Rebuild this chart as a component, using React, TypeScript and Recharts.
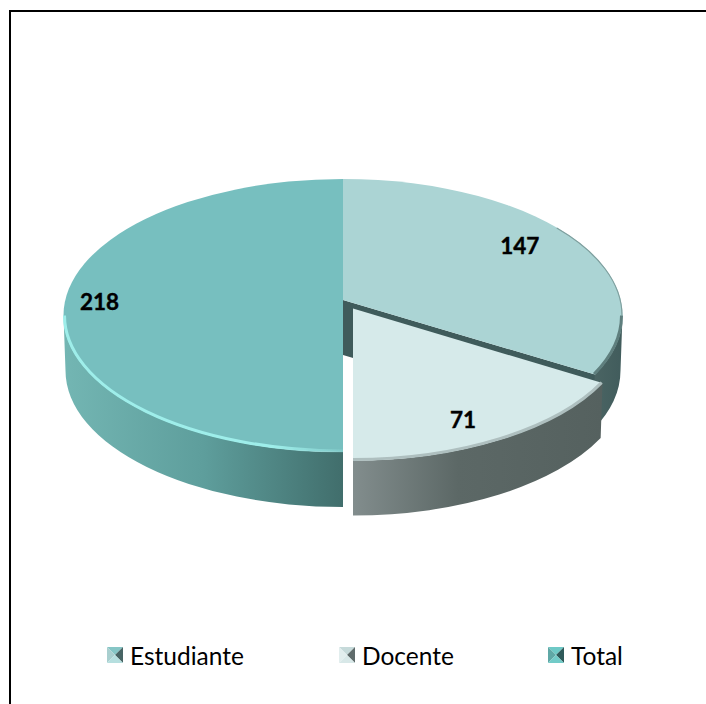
import React from "react";
import { PieChart, Pie, Legend } from "recharts";

const categories = ["Estudiante", "Docente", "Total"];
const values = [147, 71, 218];

const FILLS = ["#abd4d4", "#d6eaea", "#77bfbf"];
const SWATCHES = [
  ["#86c6c6", "#a9cfcf", "#486565", "#b6dfdf"],
  ["#c6dada", "#e2eeee", "#5f6b6b", "#d8e8e8"],
  ["#6ec9c6", "#5fa8a6", "#2f5a5a", "#72cbc8"],
];
const LEGEND_X = [107, 339, 548];
const W = 706;
const H = 704;
const CX = 343;
const CY = 315.5;
const RX = 279.5;
const RY_RATIO = 136.5 / 279.5;
const APEX_SHIFT = 0.1136;
const DEPTH = 55;

type Style = {
  offset: [number, number];
  rxScale: number;
  side: [number, string][];
  rim: string;
  rimWidth: number;
  face?: string;
  upperRim?: string;
  labelFraction: number;
  labelNudge: [number, number];
};
const STYLES: Record<string, Style> = {
  Estudiante: {
    offset: [0, 0],
    rxScale: 1,
    side: [[0, "#4a6463"], [1, "#415c5c"]],
    rim: "#5f7f7e",
    rimWidth: 3,
    face: "#3f5b5b",
    upperRim: "#7f9f9e",
    labelFraction: 0.77,
    labelNudge: [-2, -6],
  },
  Docente: {
    offset: [10, 8.5],
    rxScale: 0.99,
    side: [[0, "#828d8d"], [0.42, "#5c6866"], [1, "#55615f"]],
    rim: "#aebfbf",
    rimWidth: 3,
    labelFraction: 0.8,
    labelNudge: [-8, 9],
  },
  Total: {
    offset: [0, 0],
    rxScale: 1,
    side: [[0, "#73b6b3"], [0.5, "#5e9e9c"], [1, "#416e6c"]],
    rim: "#9eeeea",
    rimWidth: 3,
    labelFraction: 0.877,
    labelNudge: [0, 2],
  },
};

const data = categories.map((name, i) => ({ name, value: values[i], fill: FILLS[i] }));

// true pie angle (clockwise from top) -> position on the perspective disc, unit coords
const project = (theta: number, f = 1): [number, number] => {
  const r = (theta * Math.PI) / 180;
  const u = Math.sin(r) * f;
  const v = -Math.cos(r) * f;
  const d = 1 - APEX_SHIFT * v;
  return [(u * Math.sqrt(1 - APEX_SHIFT * APEX_SHIFT)) / d, (v - APEX_SHIFT) / d];
};
const paramOf = (theta: number) => {
  if (theta >= 359.999) return 360;
  const [u, v] = project(theta);
  let p = (Math.atan2(u, -v) * 180) / Math.PI;
  if (p < 0) p += 360;
  return p;
};
const onEllipse = (cx: number, cy: number, rx: number, ry: number, p: number): [number, number] => {
  const r = (p * Math.PI) / 180;
  return [cx + rx * Math.sin(r), cy - ry * Math.cos(r)];
};

const Slice = (props: any) => {
  const { cx, cy, outerRadius, startAngle, endAngle, fill, name } = props;
  const st = STYLES[name];
  const rx = outerRadius * st.rxScale;
  const ry = outerRadius * RY_RATIO;
  const ox = cx + st.offset[0];
  const oy = cy + st.offset[1];
  const t1 = 90 - startAngle;
  const t2 = 90 - endAngle;
  const p1 = paramOf(t1);
  const p2 = paramOf(t2);
  const ax = ox;
  const ay = oy - APEX_SHIFT * ry;
  const [sx, sy] = onEllipse(ox, oy, rx, ry, p1);
  const [ex, ey] = onEllipse(ox, oy, rx, ry, p2);
  const top = `M${ax},${ay} L${sx},${sy} A${rx},${ry} 0 ${p2 - p1 > 180 ? 1 : 0} 1 ${ex},${ey} Z`;
  const lo = Math.max(p1, 90);
  const hi = Math.min(p2, 270);
  const rb = rx - 2;
  let sidePath = "";
  let rimPath = "";
  let gx1 = ox;
  let gx2 = ox;
  if (hi > lo) {
    const a = onEllipse(ox, oy, rx, ry, lo);
    const b = onEllipse(ox, oy, rx, ry, hi);
    const c = onEllipse(ox, oy + DEPTH, rb, ry, hi);
    const d = onEllipse(ox, oy + DEPTH, rb, ry, lo);
    sidePath = `M${a} A${rx},${ry} 0 0 1 ${b} L${c} A${rb},${ry} 0 0 0 ${d} Z`;
    // the bevel sits just inside the top surface's front edge
    const ai = onEllipse(ox, oy, rx - 1, ry - 1, lo);
    const bi = onEllipse(ox, oy, rx - 1, ry - 1, hi);
    rimPath = `M${ai} A${rx - 1},${ry - 1} 0 0 1 ${bi}`;
    gx1 = Math.min(a[0], b[0]);
    gx2 = Math.max(a[0], b[0]);
  }
  let upperPath = "";
  if (st.upperRim) {
    const a = onEllipse(ox, oy, rx - 0.5, ry - 0.5, 50);
    const b = onEllipse(ox, oy, rx - 0.5, ry - 0.5, 90);
    upperPath = `M${a} A${rx - 0.5},${ry - 0.5} 0 0 1 ${b}`;
  }
  const gid = `side-${name}`;
  const rid = `rim-${name}`;
  const fid = `blur-${name}`;
  return (
    <g>
      <defs>
        <linearGradient id={gid} gradientUnits="userSpaceOnUse" x1={gx1} x2={gx2} y1={0} y2={0}>
          {st.side.map(([o, c]) => (
            <stop key={o} offset={o} stopColor={c} />
          ))}
        </linearGradient>
        <linearGradient id={rid} gradientUnits="userSpaceOnUse" x1={gx1} x2={gx2} y1={0} y2={0}>
          <stop offset={0} stopColor={st.rim} />
          <stop offset={0.75} stopColor={st.rim} />
          <stop offset={1} stopColor={st.rim} stopOpacity={name === "Total" ? 0.2 : 1} />
        </linearGradient>
        <filter id={fid} x="-5%" y="-5%" width="110%" height="110%">
          <feGaussianBlur stdDeviation={0.7} />
        </filter>
      </defs>
      {st.face && (
        <path
          d={`M${ax},${ay} L${ex},${ey} L${ex},${ey + DEPTH} L${ax},${ay + DEPTH} Z`}
          fill={st.face}
        />
      )}
      {sidePath && <path d={sidePath} fill={`url(#${gid})`} />}
      <path d={top} fill={fill} />
      {upperPath && (
        <path d={upperPath} fill="none" stroke={st.upperRim} strokeWidth={1.2} filter={`url(#${fid})`} />
      )}
      {rimPath && (
        <path
          d={rimPath}
          fill="none"
          stroke={`url(#${rid})`}
          strokeWidth={st.rimWidth}
          filter={`url(#${fid})`}
        />
      )}
    </g>
  );
};

const renderLabel = (props: any) => {
  const { cx, cy, outerRadius, midAngle, name, value } = props;
  const st = STYLES[name];
  const rx = outerRadius;
  const ry = rx * RY_RATIO;
  const [u, v] = project(90 - midAngle, st.labelFraction);
  return (
    <text
      x={cx + st.offset[0] + st.labelNudge[0] + u * rx}
      y={cy + st.offset[1] + st.labelNudge[1] + v * ry}
      textAnchor="middle"
      dominantBaseline="central"
      fontFamily="Lato, Carlito, sans-serif"
      fontWeight={700}
      fontSize={22.5}
      fill="#000"
      stroke="#000"
      strokeWidth={0.4}
    >
      {value}
    </text>
  );
};

const Swatch = ({ colors }: { colors: string[] }) => (
  <svg width={16} height={16} style={{ display: "block", flex: "none" }}>
    <polygon points="0,0 16,0 8,8" fill={colors[0]} />
    <polygon points="0,0 0,16 8,8" fill={colors[1]} />
    <polygon points="16,0 16,16 8,8" fill={colors[2]} />
    <polygon points="0,16 16,16 8,8" fill={colors[3]} />
  </svg>
);

const renderLegend = (props: any) => {
  const items = props.payload ?? [];
  return (
    <div style={{ position: "relative", width: W, height: 40 }}>
      {items.map((it: any, i: number) => (
        <div
          key={it.value}
          style={{
            position: "absolute",
            left: LEGEND_X[i],
            top: 0,
            height: 40,
            display: "flex",
            alignItems: "center",
            gap: 7,
            fontFamily: "Lato, Carlito, sans-serif",
            fontSize: 24.5,
            color: "#000",
            whiteSpace: "nowrap",
          }}
        >
          <Swatch colors={SWATCHES[i]} />
          <span>{it.value}</span>
        </div>
      ))}
    </div>
  );
};

export default function App() {
  return (
    <div style={{ position: "absolute", left: 0, top: 0, width: W, height: H, background: "#fff", overflow: "hidden" }}>
      <div
        style={{
          position: "absolute",
          left: 8.5,
          top: 9.5,
          width: W,
          height: H,
          borderLeft: "2px solid #000",
          borderTop: "2px solid #000",
        }}
      />
      <div style={{ position: "absolute", left: 0, top: 0 }}>
        <PieChart width={W} height={H} margin={{ top: 0, right: 0, bottom: 0, left: 0 }}>
          <Pie
            data={data}
            dataKey="value"
            nameKey="name"
            cx={CX}
            cy={CY}
            outerRadius={RX}
            startAngle={90}
            endAngle={-270}
            stroke="none"
            isAnimationActive={false}
            shape={Slice}
            label={renderLabel}
            labelLine={false}
          />
          <Legend
            content={renderLegend}
            itemSorter={null}
            wrapperStyle={{ position: "absolute", left: 0, top: 635, width: W, height: 40 }}
          />
        </PieChart>
      </div>
    </div>
  );
}
